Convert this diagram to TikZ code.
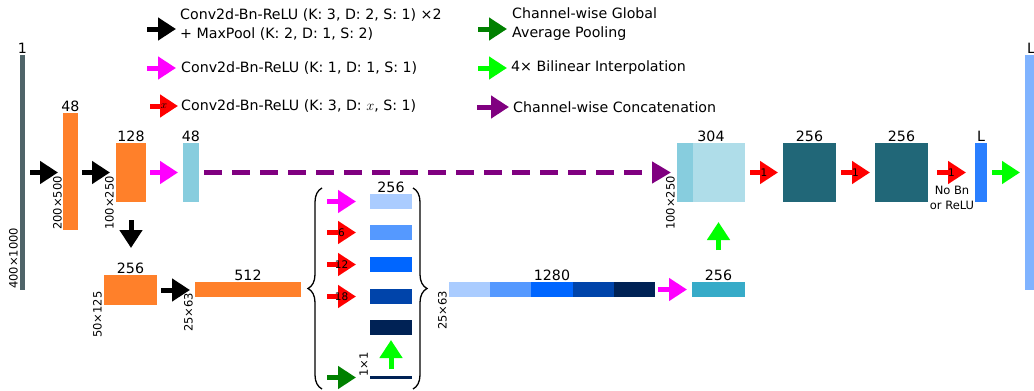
\documentclass[tikz,border=0pt]{standalone}
\usepackage{fontspec}
\setmainfont{DejaVu Sans}
\usetikzlibrary{arrows.meta,decorations.pathreplacing}
\definecolor{inpgrey}{HTML}{4F6469}
\definecolor{orng}{HTML}{FF802A}
\definecolor{skipc}{HTML}{87CDDE}
\definecolor{catc}{HTML}{AFDDE9}
\definecolor{aspA}{HTML}{AACCFF}
\definecolor{aspB}{HTML}{5599FF}
\definecolor{aspC}{HTML}{0066FF}
\definecolor{aspD}{HTML}{0044AA}
\definecolor{aspE}{HTML}{002255}
\definecolor{tealc}{HTML}{37ABC8}
\definecolor{dteal}{HTML}{216778}
\definecolor{logc}{HTML}{2A7FFF}
\definecolor{outc}{HTML}{80B3FF}
\definecolor{purp}{RGB}{128,0,128}
\definecolor{dgreen}{RGB}{0,128,0}
\definecolor{lime}{RGB}{0,255,0}
\definecolor{magn}{RGB}{255,0,255}
\definecolor{redc}{RGB}{255,0,0}
\tikzset{
  arr/.style={-{Triangle[length=18pt,width=22pt]}, line width=5pt, shorten <=5pt, shorten >=5pt},
  karr/.style={arr, black},
  marr/.style={arr, magn},
  rarr/.style={arr, redc},
  garr/.style={arr, dgreen},
  larr/.style={arr, lime},
  numlab/.style={font=\fontsize{14.2}{16}\selectfont, inner sep=1pt},
  tinylab/.style={font=\fontsize{10.5}{11}\selectfont, inner sep=0pt, text=black},
  smalllab/.style={font=\fontsize{11.5}{15}\selectfont, inner sep=0pt},
  dimlab/.style={smalllab, rotate=90, anchor=south west},
  keylab/.style={font=\fontsize{14.2}{19}\selectfont, inner sep=0pt, anchor=west, align=left},
  blk/.style={inner sep=0pt, outer sep=0pt},
  chan/.style={label={[numlab]above:#1}},
  curly/.style={decorate, decoration={brace, amplitude=14pt}, line width=1.3pt}
}
\begin{document}
\begin{tikzpicture}[x=1pt,y=-1pt]
\useasboundingbox (0,0) rectangle (1034,391);
% legend
\coordinate (kA) at (147,29);
\coordinate (kB) at (147,68);
\coordinate (kC) at (150,106);
\coordinate (kD) at (478,29);
\coordinate (kE) at (478,68);
\coordinate (kF) at (477,107);
\draw[karr, shorten <=0pt, shorten >=0pt] (kA) -- ++(29,0);
\draw[marr, shorten <=0pt, shorten >=0pt] (kB) -- ++(29,0);
\draw[rarr, shorten <=0pt, shorten >=0pt] (kC) -- ++(28,0) node[tinylab, midway] (kCx) {$x$};
\draw[garr, shorten <=0pt, shorten >=0pt] (kD) -- ++(29,0);
\draw[larr, shorten <=0pt, shorten >=0pt] (kE) -- ++(29,0);
\draw[arr, purp, shorten <=0pt, shorten >=0pt] (kF) -- ++(32,0);
\node[keylab] (kAt) at (180,24.5) {Conv2d-Bn-ReLU (K: 3, D: 2, S: 1) ×2\\+ MaxPool (K: 2, D: 1, S: 2)};
\node[keylab] (kBt) at (181,68) {Conv2d-Bn-ReLU (K: 1, D: 1, S: 1)};
\node[keylab] (kCt) at (181,106) {Conv2d-Bn-ReLU (K: 3, D: $x$, S: 1)};
\node[keylab] (kDt) at (512,24) {Channel-wise Global\\Average Pooling};
\node[keylab] (kEt) at (511,68) {4× Bilinear Interpolation};
\node[keylab] (kFt) at (513,107) {Channel-wise Concatenation};

% encoder
\node[blk, fill=inpgrey, minimum width=5, minimum height=235, chan=1] (inp) at (22.5,172.5) {};
\node[blk, fill=orng, minimum width=15, minimum height=117, chan=48] (e1) at (70.5,171.5) {};
\node[blk, fill=orng, minimum width=30, minimum height=59, chan=128] (e2) at (131,172.5) {};
\node[blk, fill=skipc, minimum width=16, minimum height=59, chan=48] (low) at (191,172.5) {};
\node[blk, fill=orng, minimum width=53, minimum height=30, chan=256] (e3) at (130.5,290) {};
\node[blk, fill=orng, minimum width=106, minimum height=15, chan=512] (e4) at (248,289.5) {};
\node[dimlab] (dA) at (18,289) {400×1000};
\node[dimlab] (dB) at (62,230) {200×500};
\node[dimlab] (dC) at (114,230) {100×250};
\node[dimlab] (dD) at (102,338) {50×125};
\node[dimlab] (dE) at (193,332) {25×63};
\draw[karr] (inp.east) -- (inp.east -| e1.west);
\draw[karr, shorten <=4pt, shorten >=6pt] (e1.east |- e2.west) -- (e2.west);
\draw[marr, shorten <=4pt] (e2.east) -- (low.west);
\draw[karr, shorten <=18pt, shorten >=27pt] (e2.south) -- (e2.south |- e3.north);
\draw[karr, shorten <=4pt] (e3.east) -- (e3.east -| e4.west);

% aspp
\foreach \c/\yy [count=\i] in {aspA/201.5, aspB/232.5, aspC/264.5, aspD/296.5, aspE/327.5}
  \node[blk, fill=\c, minimum width=42, minimum height=15] (a\i) at (391,\yy) {};
\node[numlab, anchor=south] (a1c) at (a1.north) {256};
\node[blk, fill=aspE, minimum width=42, minimum height=3] (gp) at (391,377.5) {};
\node[dimlab] (dF) at (368,377) {1×1};
\draw[marr, shorten <=0pt, shorten >=0pt] ([xshift=-43pt]a1.west) -- ([xshift=-14pt]a1.west);
\foreach \r/\k in {2/6, 3/12, 4/18}
  \draw[rarr, shorten <=0pt, shorten >=0pt] ([xshift=-43pt]a\r.west) -- ([xshift=-14pt]a\r.west) node[tinylab, midway] (r\r) {\k};
\draw[garr, shorten <=0pt, shorten >=0pt] ([xshift=-43pt]gp.west) -- ([xshift=-14pt]gp.west);
\draw[larr, shorten <=7pt] (gp.north) -- (a5.south);
\draw[curly] (322,389) -- (322,188);
\draw[curly] (413,188) -- (413,389);
\node[dimlab] (dG) at (447,330) {25×63};
\node[blk, minimum width=206, minimum height=15, chan=1280] (cat) at (552,289.5) {};
\foreach \c [count=\i from 0] in {aspA, aspB, aspC, aspD, aspE}
  \fill[\c] ([xshift=\i*41.2pt]cat.south west) rectangle ++(41.2,-15);
\node[blk, fill=tealc, minimum width=53, minimum height=15, chan=256] (asppout) at (718.5,289.5) {};
\draw[marr, shorten <=3pt] (cat.east) -- (asppout.west);

% decoder
\node[blk, fill=catc, minimum width=68, minimum height=59, chan=304] (dec) at (711,172.5) {};
\fill[skipc] (dec.south west) rectangle ++(16,-59);
\node[dimlab] (dH) at (675,230) {100×250};
\node[blk, fill=dteal, minimum width=53, minimum height=59, chan=256] (d1) at (809.5,172.5) {};
\node[blk, fill=dteal, minimum width=53, minimum height=59, chan=256] (d2) at (901.5,172.5) {};
\node[blk, fill=logc, minimum width=12, minimum height=59, chan=L] (logit) at (981,172.5) {};
\node[blk, fill=outc, minimum width=12, minimum height=235, chan=L] (outp) at (1031,172.5) {};
\draw[arr, purp, line width=4.5pt, dash pattern=on 18pt off 10pt, -{Triangle[length=19pt,width=21pt]}, shorten >=6pt] (low.east) -- (dec.west);
\draw[larr, shorten <=32pt, shorten >=20pt] (asppout.north) -- (asppout.north |- dec.south);
\draw[rarr] (dec.east) -- (d1.west) node[tinylab, midway] (r5) {1};
\draw[rarr] (d1.east) -- (d2.west) node[tinylab, midway] (r6) {1};
\draw[rarr, shorten <=9pt, shorten >=9pt] (d2.east) -- (logit.west) node[tinylab, midway] (r7) {1};
\node[smalllab, align=center] (nobn) at (952,197.5) {No Bn\\or ReLU};
\draw[larr] (logit.east) -- (outp.west);
\end{tikzpicture}
\end{document}
